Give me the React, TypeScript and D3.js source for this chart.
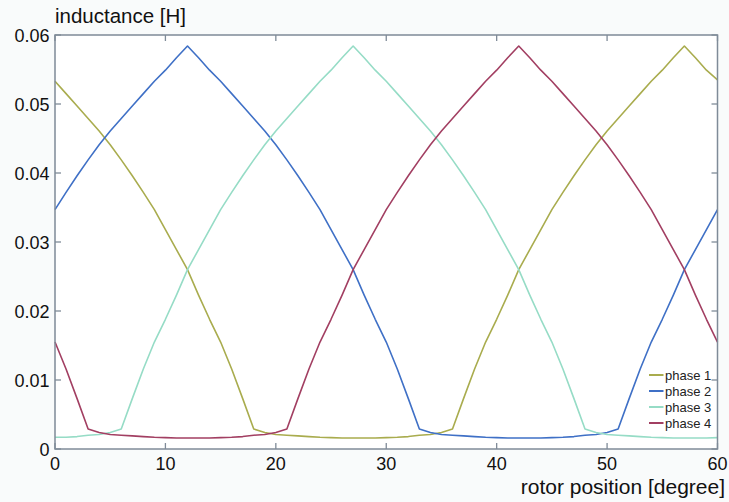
import React from 'react';
import * as d3 from 'd3';

// rotor position in degrees, one sample per degree
const positions = d3.range(0, 61);

// inductance [H] at each degree
const phase1 = [
  0.0533, 0.0515, 0.0497, 0.0479, 0.0461, 0.0441, 0.0419, 0.0396, 0.0372, 0.0347,
  0.0318, 0.0289, 0.0260, 0.0223, 0.0188, 0.0155, 0.0116, 0.0073, 0.0029, 0.0024,
  0.0021, 0.0020, 0.0019, 0.0018, 0.0017, 0.00165, 0.0016, 0.0016, 0.0016, 0.0016,
  0.00165, 0.0017, 0.0018, 0.0020, 0.0021, 0.0024, 0.0029, 0.0073, 0.0116, 0.0155,
  0.0188, 0.0223, 0.0260, 0.0289, 0.0318, 0.0347, 0.0372, 0.0396, 0.0419, 0.0441,
  0.0461, 0.0479, 0.0497, 0.0515, 0.0533, 0.0549, 0.0567, 0.0584, 0.0567, 0.0549,
  0.0535,
];
const phase2 = [
  0.0347, 0.0372, 0.0396, 0.0419, 0.0441, 0.0461, 0.0479, 0.0497, 0.0515, 0.0533,
  0.0549, 0.0567, 0.0584, 0.0567, 0.0549, 0.0533, 0.0515, 0.0497, 0.0479, 0.0461,
  0.0441, 0.0419, 0.0396, 0.0372, 0.0347, 0.0318, 0.0289, 0.0260, 0.0223, 0.0188,
  0.0155, 0.0116, 0.0073, 0.0029, 0.0024, 0.0021, 0.0020, 0.0019, 0.0018, 0.0017,
  0.00165, 0.0016, 0.0016, 0.0016, 0.0016, 0.00165, 0.0017, 0.0018, 0.0020, 0.0021,
  0.0024, 0.0029, 0.0073, 0.0116, 0.0155, 0.0188, 0.0223, 0.0260, 0.0289, 0.0318,
  0.0347,
];
const phase3 = [
  0.0017, 0.0017, 0.0018, 0.0020, 0.0021, 0.0024, 0.0029, 0.0073, 0.0116, 0.0155,
  0.0188, 0.0223, 0.0260, 0.0289, 0.0318, 0.0347, 0.0372, 0.0396, 0.0419, 0.0441,
  0.0461, 0.0479, 0.0497, 0.0515, 0.0533, 0.0549, 0.0567, 0.0584, 0.0567, 0.0549,
  0.0533, 0.0515, 0.0497, 0.0479, 0.0461, 0.0441, 0.0419, 0.0396, 0.0372, 0.0347,
  0.0318, 0.0289, 0.0260, 0.0223, 0.0188, 0.0155, 0.0116, 0.0073, 0.0029, 0.0024,
  0.0021, 0.0020, 0.0019, 0.0018, 0.0017, 0.00165, 0.0016, 0.0016, 0.0016, 0.0016,
  0.00165,
];
const phase4 = [
  0.0155, 0.0116, 0.0073, 0.0029, 0.0024, 0.0021, 0.0020, 0.0019, 0.0018, 0.0017,
  0.00165, 0.0016, 0.0016, 0.0016, 0.0016, 0.00165, 0.0017, 0.0018, 0.0020, 0.0021,
  0.0024, 0.0029, 0.0073, 0.0116, 0.0155, 0.0188, 0.0223, 0.0260, 0.0289, 0.0318,
  0.0347, 0.0372, 0.0396, 0.0419, 0.0441, 0.0461, 0.0479, 0.0497, 0.0515, 0.0533,
  0.0549, 0.0567, 0.0584, 0.0567, 0.0549, 0.0533, 0.0515, 0.0497, 0.0479, 0.0461,
  0.0441, 0.0419, 0.0396, 0.0372, 0.0347, 0.0318, 0.0289, 0.0260, 0.0223, 0.0188,
  0.0155,
];

const seriesNames = ['phase 1', 'phase 2', 'phase 3', 'phase 4'];
const seriesColors = ['#a9ac4e', '#3f70c6', '#96dcc6', '#a23f62'];
const seriesValues = [phase1, phase2, phase3, phase4];

const xTicks = [0, 10, 20, 30, 40, 50, 60];
const yTicks = [0, 0.01, 0.02, 0.03, 0.04, 0.05, 0.06];
const yTickLabels = ['0', '0.01', '0.02', '0.03', '0.04', '0.05', '0.06'];

const width = 729;
const height = 502;
const margin = { top: 35, right: 11.5, bottom: 53, left: 55 };
const frameColor = '#7f8b98';
const tickLen = 6;
const font = 'Arial, "Liberation Sans", sans-serif';

const App = () => {
  const x = d3.scaleLinear().domain([0, 60]).range([margin.left, width - margin.right]);
  const y = d3.scaleLinear().domain([0, 0.06]).range([height - margin.bottom, margin.top]);

  const line = d3.line<number>()
    .x((d, i) => x(positions[i]))
    .y(d => y(d));

  const [x0, x1] = x.range();
  const [y0, y1] = y.range();

  return (
    <svg width={width} height={height} style={{ position: 'absolute', left: 0, top: 0 }}>
      <rect width={width} height={height} fill="#f9fbfb" />
      <rect x={x0} y={y1} width={x1 - x0} height={y0 - y1} fill="#ffffff" />

      {/* curves */}
      {seriesValues.map((vals, i) => (
        <path key={seriesNames[i]} d={line(vals) || ''} fill="none"
          stroke={seriesColors[i]} strokeWidth={1.6} strokeLinejoin="round" />
      ))}

      {/* frame and inward ticks on all sides */}
      <rect x={x0} y={y1} width={x1 - x0} height={y0 - y1} fill="none" stroke={frameColor} strokeWidth={1.5} />
      {xTicks.map(t => (
        <g key={'x' + t} stroke={frameColor} strokeWidth={1.3}>
          <line x1={x(t)} x2={x(t)} y1={y0} y2={y0 - tickLen} />
          <line x1={x(t)} x2={x(t)} y1={y1} y2={y1 + tickLen} />
        </g>
      ))}
      {yTicks.map(t => (
        <g key={'y' + t} stroke={frameColor} strokeWidth={1.3}>
          <line x1={x0} x2={x0 + tickLen} y1={y(t)} y2={y(t)} />
          <line x1={x1} x2={x1 - tickLen} y1={y(t)} y2={y(t)} />
        </g>
      ))}

      {/* tick labels */}
      {xTicks.map(t => (
        <text key={'xl' + t} x={x(t)} y={470} textAnchor="middle"
          fontFamily={font} fontSize={18} fill="#111">{t}</text>
      ))}
      {yTicks.map((t, i) => (
        <text key={'yl' + t} x={49.5} y={y(t) + 6.5} textAnchor="end"
          fontFamily={font} fontSize={18} fill="#111">{yTickLabels[i]}</text>
      ))}

      {/* axis titles */}
      <text x={55} y={23} fontFamily={font} fontSize={20.5} fill="#111">inductance [H]</text>
      <text x={725} y={494} textAnchor="end" fontFamily={font} fontSize={21} fill="#111">rotor position [degree]</text>

      {/* legend */}
      {seriesNames.map((name, i) => (
        <g key={'lg' + name} transform={`translate(649, ${375 + i * 16})`}>
          <line x1={0} x2={14.5} y1={0} y2={0} stroke={seriesColors[i]} strokeWidth={2} />
          <text x={16} y={4.5} fontFamily={font} fontSize={13} fill="#222">{name}</text>
        </g>
      ))}
    </svg>
  );
};

export default App;
